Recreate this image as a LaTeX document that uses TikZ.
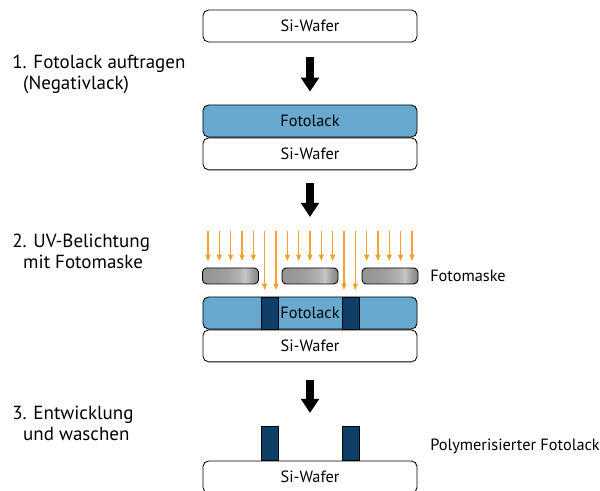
\documentclass[tikz,border=0pt]{standalone}
\usepackage{fontspec}
\setmainfont{PT Sans}
\usetikzlibrary{arrows.meta,positioning}
\definecolor{fl-light}{HTML}{68AACF}
\definecolor{fl-dark}{HTML}{0F3F66}
\definecolor{uv-orange}{HTML}{F5A031}
\pgfdeclarehorizontalshading{maskshade}{100bp}{color(0bp)=(black!42); color(25bp)=(black!42); color(45bp)=(black!38); color(58bp)=(black!30); color(63bp)=(black!22); color(70bp)=(black!40); color(75bp)=(black!48); color(100bp)=(black!48)}

\begin{document}
\begin{tikzpicture}[x=0.025cm, y=-0.025cm, font=\fontsize{11.6}{14}\selectfont,
    layer/.style={draw, line width=0.6pt, rounded corners=4pt, minimum width=5.35cm, minimum height=0.8cm, inner sep=0pt},
    wafer/.style={layer, fill=white},
    lack/.style={layer, fill=fl-light},
    block/.style={draw, line width=0.6pt, fill=fl-dark, minimum width=0.425cm, inner sep=0pt},
    mask/.style={draw, line width=0.6pt, rounded corners=3pt, shading=maskshade, minimum width=1.4cm, minimum height=0.4cm, inner sep=0pt},
    procarrow/.style={line width=5.7pt, -{Triangle[width=12.5pt,length=10pt]}},
    uv/.style={uv-orange, line width=0.9pt, -{Triangle[width=3.6pt,length=4.6pt]}},
    steplabel/.style={anchor=base west, align=left, inner sep=0pt, font=\fontsize{13.5}{15.6}\selectfont}]
    \path[use as bounding box, clip] (0,0) rectangle (600,491);

    % schritt 0 und 1
    \node[wafer] (wafer1) at (310,26) {Si-Wafer};
    \node[lack] (lack2) at (310,121) {Fotolack};
    \node[wafer, below=0pt of lack2] (wafer2) {Si-Wafer};
    \draw[procarrow, shorten <=10.7pt, shorten >=9.2pt] (wafer1.south) -- (lack2.north);
    \node[steplabel] (label1) at (12,90) {1. Fotolack auftragen\\\hspace*{7.8pt}(Negativlack)};

    % schritt 2
    \coordinate (uvtop) at (310,231);
    \draw[procarrow, shorten <=9.2pt, shorten >=10pt] (wafer2.south) -- (uvtop);
    \foreach \k in {0,1,2,3,4,7,8,9,10,11,14,15,16,17,18}
        \draw[uv] (208+11.33*\k,231) -- ++(0,30);
    \foreach \k in {5,6,12,13}
        \draw[uv] (208+11.33*\k,231) -- ++(0,59);
    \node[mask] (mask1) at (230.5,276) {};
    \node[mask] (mask2) at (310,276) {};
    \node[mask] (mask3) at (390,276) {};
    \node[lack] (lack3) at (310,313) {};
    \node[block, minimum height=0.8cm] (block1) at (269.5,313) {};
    \node[block, minimum height=0.8cm] (block2) at (350.5,313) {};
    \node (fotolack3) at (lack3) {Fotolack};
    \node[wafer, below=0pt of lack3] (wafer3) {Si-Wafer};
    \node[steplabel] (label2) at (12,269) {2. UV-Belichtung\\\hspace*{7.8pt}mit Fotomaske};
    \node[anchor=west, inner sep=0pt] (masklabel) at (430,276) {Fotomaske};

    % schritt 3
    \coordinate (devtop) at (310,427);
    \draw[procarrow, shorten <=12.8pt, shorten >=10pt] (wafer3.south) -- (devtop);
    \node[wafer] (wafer4) at (310,477) {Si-Wafer};
    \node[block, minimum height=0.85cm, anchor=south] (pillar1) at (269.5,461) {};
    \node[block, minimum height=0.85cm, anchor=south] (pillar2) at (350.5,461) {};
    \node[steplabel] (label3) at (12,441) {3. Entwicklung\\\hspace*{7.8pt}und waschen};
    \node[anchor=base west, inner sep=0pt] (pillarlabel) at (430,451) {Polymerisierter Fotolack};
\end{tikzpicture}
\end{document}
